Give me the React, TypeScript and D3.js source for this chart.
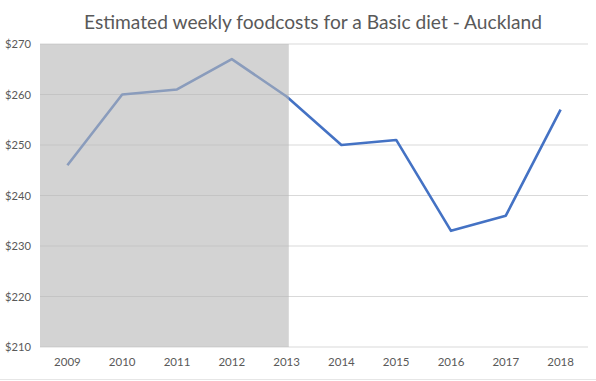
import React from "react";
import * as d3 from "d3";

const years = ["2009", "2010", "2011", "2012", "2013", "2014", "2015", "2016", "2017", "2018"];
const costs = [246, 260, 261, 267, 259.6, 250, 251, 233, 236, 257];
const yTicks = [210, 220, 230, 240, 250, 260, 270];
const shadeRange = [-0.5, 4.04]; // in category-index units
const title = "Estimated weekly foodcosts for a Basic diet - Auckland";

const W = 596;
const H = 381;
const M = { left: 40, right: 8, top: 44, bottom: 34 };

export default function App() {
  const x = d3.scaleLinear().domain([-0.5, years.length - 0.5]).range([M.left, W - M.right]);
  const y = d3.scaleLinear().domain([210, 270]).range([H - M.bottom, M.top]);
  const line = d3
    .line<number>()
    .x((_, i) => x(i))
    .y((d) => y(d));
  const font = "Lato, 'Open Sans', sans-serif";
  return (
    <svg width={W} height={H} style={{ position: "absolute", left: 0, top: 0, background: "#fff" }}>
      <text x={313} y={29} textAnchor="middle" fontFamily={font} fontSize={19.2} fill="#595959">
        {title}
      </text>
      {yTicks.map((t) => (
        <g key={t}>
          <line x1={M.left} x2={W - M.right} y1={y(t)} y2={y(t)} stroke="#D9D9D9" strokeWidth={1} />
          <text x={31} y={y(t) + 4} textAnchor="end" fontFamily={font} fontSize={11.2} fill="#595959">
            ${t}
          </text>
        </g>
      ))}
      <path d={line(costs) || ""} fill="none" stroke="#4472C4" strokeWidth={2.6} strokeLinejoin="round" />
      <rect
        x={x(shadeRange[0])}
        y={M.top}
        width={x(shadeRange[1]) - x(shadeRange[0])}
        height={y(210) - M.top}
        fill="#B7B7B7"
        fillOpacity={0.61}
      />
      {years.map((yr, i) => (
        <text key={yr} x={x(i)} y={H - M.bottom + 19} textAnchor="middle" fontFamily={font} fontSize={11.5} fill="#595959">
          {yr}
        </text>
      ))}
      <line x1={0} x2={W} y1={379.5} y2={379.5} stroke="#E6E6E6" strokeWidth={1} />
    </svg>
  );
}
